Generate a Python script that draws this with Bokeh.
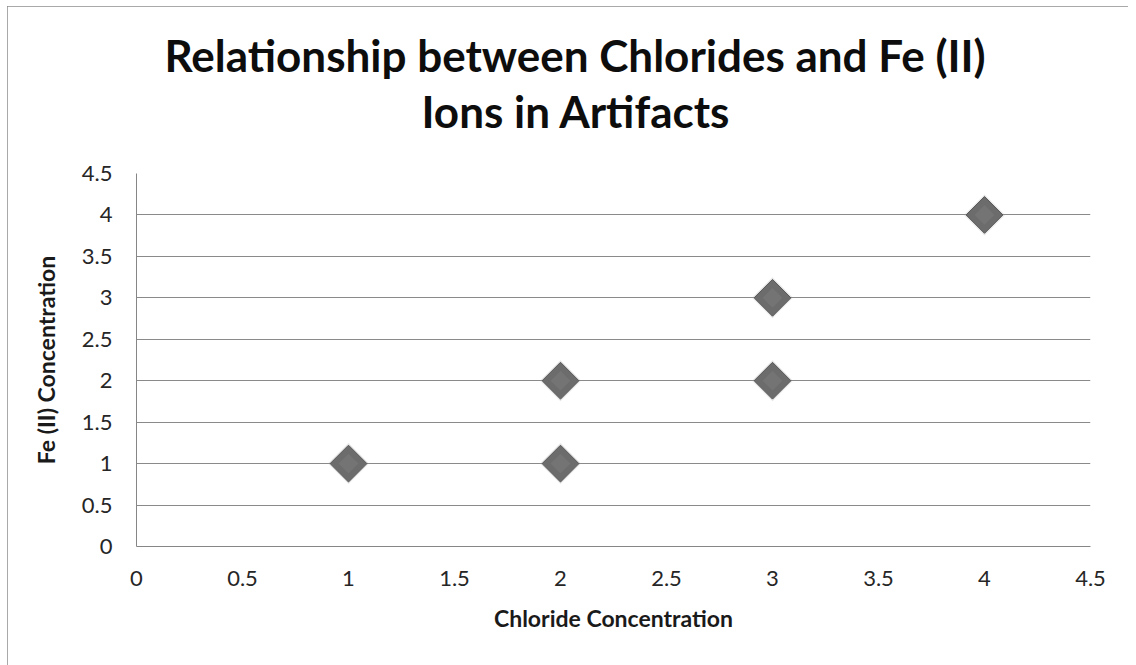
import math
from bokeh.plotting import figure
from bokeh.models import Range1d, FixedTicker, Title
from bokeh.embed import file_html
from bokeh.resources import INLINE

# data
chloride = [1, 2, 2, 3, 3, 4]
fe_ii = [1, 1, 2, 2, 3, 4]
tick_values = [0, 0.5, 1, 1.5, 2, 2.5, 3, 3.5, 4, 4.5]
title_lines = ["Relationship between Chlorides and Fe (II)", "Ions in Artifacts"]
x_label = "Chloride Concentration"
y_label = "Fe (II) Concentration"

OX, OY = 7, 6                  # figure position on the page (chart border)
W, H = 1121, 661
FL, FR, FT, FB = 136 - OX, 1090 - OX, 173 - OY, 546 - OY   # frame edges in canvas px

p = figure(width=W, height=H, output_backend="svg", toolbar_location=None,
           x_range=Range1d(0, 4.5), y_range=Range1d(0, 4.5),
           min_border_left=FL, min_border_right=W - FR,
           min_border_top=FT, min_border_bottom=H - FB)
p.styles = {"margin-left": f"{OX}px", "margin-top": f"{OY}px",
            "outline": "1.5px solid #8c8c8c", "outline-offset": "-1px"}
p.outline_line_color = None
p.border_fill_color = "white"
p.background_fill_color = "white"

FONT = "Lato"
for ax in (p.xaxis[0], p.yaxis[0]):
    ax.ticker = FixedTicker(ticks=tick_values)
    ax.major_tick_in = 0
    ax.major_tick_out = 0
    ax.minor_tick_in = 0
    ax.minor_tick_out = 0
    ax.axis_line_color = "#868686"
    ax.axis_line_width = 1
    ax.major_label_text_font = FONT
    ax.major_label_text_font_size = "22px"
    ax.major_label_text_color = "#262626"
    ax.axis_label_text_font = FONT
    ax.axis_label_text_font_style = "bold"
    ax.axis_label_text_font_size = "23px"
    ax.axis_label_text_color = "#1a1a1a"

p.xaxis.axis_label = x_label
p.yaxis.axis_label = y_label
p.xaxis.major_label_standoff = 24
p.xaxis.axis_label_standoff = 15
p.yaxis.major_label_standoff = 24
p.yaxis.axis_label_standoff = 19

p.xgrid.grid_line_color = None
p.ygrid.grid_line_color = "#8a8a8a"
p.ygrid.grid_line_width = 1

# soft shadow / halo
p.scatter(chloride, fe_ii, marker="square", size=29, angle=math.pi / 4,
          fill_color="#9a9a9a", fill_alpha=0.25, line_color=None)
# diamonds
p.scatter(chloride, fe_ii, marker="square", size=26, angle=math.pi / 4,
          fill_color="#6c6c6c", line_color="#575757", line_width=1)
p.scatter(chloride, fe_ii, marker="square", size=14, angle=math.pi / 4,
          fill_color="#7a7a7a", fill_alpha=0.6, line_color=None)

# title: two lines; added Titles stack outward from the plot
def style_title(t, left_offset):
    t.align = "left"
    t.offset = left_offset
    t.text_font = FONT
    t.text_font_style = "bold"
    t.text_font_size = "44px"
    t.text_color = "#0d0d0d"

p.title.text = title_lines[0]
style_title(p.title, 28)
p.title.standoff = 4

spacer = Title(text=" ", text_font_size="1px", standoff=34)
p.add_layout(spacer, "above")

t2 = Title(text=title_lines[1])
style_title(t2, 285)
t2.standoff = 0
p.add_layout(t2, "above")

open("out.html", "w").write(file_html(p, INLINE))
